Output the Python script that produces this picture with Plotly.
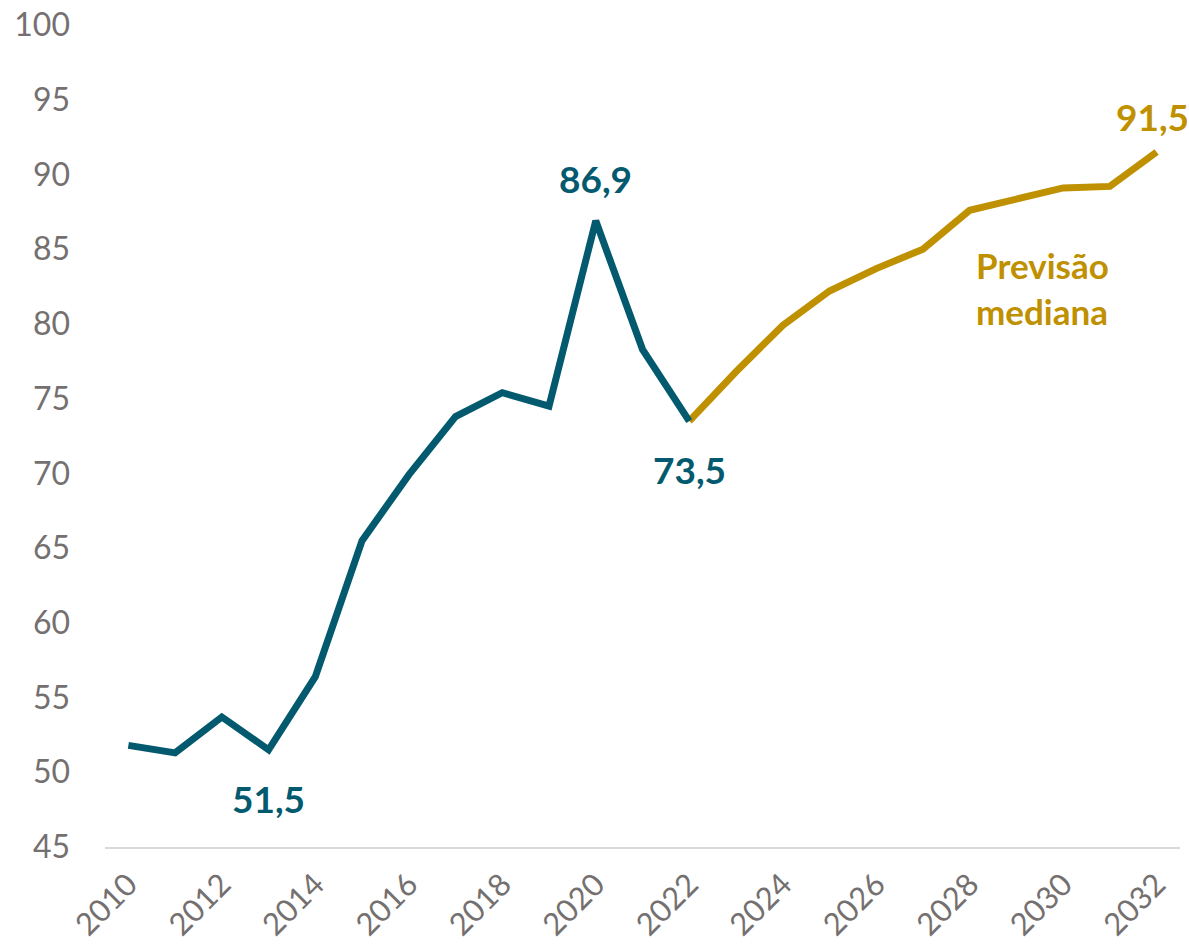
import plotly.graph_objects as go

years_hist = list(range(2010, 2023))
values_hist = [51.8, 51.3, 53.7, 51.5, 56.4, 65.5, 69.9, 73.8, 75.4, 74.5, 86.9, 78.3, 73.5]

years_fc = list(range(2022, 2033))
values_fc = [73.5, 76.8, 79.9, 82.2, 83.7, 85.0, 87.6, 88.4, 89.1, 89.2, 91.5]

tick_years = list(range(2010, 2033, 2))
y_ticks = list(range(45, 101, 5))

teal = "#035A6E"
gold = "#BF9000"
gray = "#757070"
font = "Lato, 'Open Sans', sans-serif"

fig = go.Figure()
fig.add_trace(go.Scatter(x=years_fc, y=values_fc, mode="lines",
                         line=dict(color=gold, width=7), showlegend=False, hoverinfo="skip"))
fig.add_trace(go.Scatter(x=years_hist, y=values_hist, mode="lines",
                         line=dict(color=teal, width=7), showlegend=False, hoverinfo="skip"))

ann_font = dict(family=font, size=37, color=teal)
fig.add_annotation(x=2013, y=51.5, text="<b>51,5</b>", showarrow=False, yshift=-49, font=ann_font)
fig.add_annotation(x=2020, y=86.9, text="<b>86,9</b>", showarrow=False, yshift=42, font=ann_font)
fig.add_annotation(x=2022, y=73.5, text="<b>73,5</b>", showarrow=False, yshift=-48, font=ann_font)
fig.add_annotation(x=2032, y=91.5, text="<b>91,5</b>", showarrow=False, yshift=36, xshift=-4,
                   font=dict(family=font, size=37, color=gold))
fig.add_annotation(x=2028.1, y=82.4, text="<b>Previsão<br>mediana</b>", showarrow=False,
                   xanchor="left", yanchor="middle", align="left",
                   font=dict(family=font, size=35, color=gold))

fig.update_layout(
    width=1189, height=945,
    margin=dict(l=105, r=9, t=25, b=98),
    plot_bgcolor="white", paper_bgcolor="white",
    xaxis=dict(range=[2009.5, 2032.5], tickvals=tick_years, ticktext=[str(y) for y in tick_years],
               tickangle=-45, showgrid=False, zeroline=False, showline=True, automargin=False,
               linecolor="#D9D9D9", linewidth=2, ticks="", ticklabelstandoff=5,
               tickfont=dict(family=font, size=31, color=gray)),
    yaxis=dict(range=[45, 100], tickvals=y_ticks, showgrid=False, zeroline=False, automargin=False,
               showline=False, ticks="", ticklabelstandoff=34,
               tickfont=dict(family=font, size=32, color=gray)),
)

fig.write_html("out.html", config={"displayModeBar": False},
               post_script="document.body.style.margin='0';document.body.style.overflow='hidden';")
